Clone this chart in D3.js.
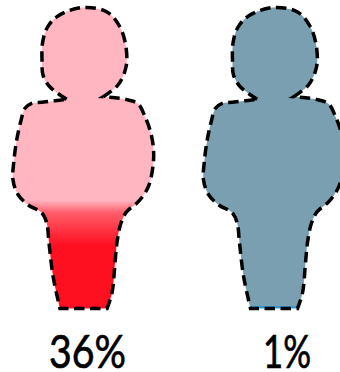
<!DOCTYPE html>
<html>
<head>
<meta charset="utf-8">
<script src="https://cdn.jsdelivr.net/npm/d3@7"></script>
<style>
  html, body { margin: 0; padding: 0; background: #fff; }
  svg { display: block; }
  text { font-family: Lato, "Open Sans", sans-serif; fill: #000; stroke: #000; stroke-width: 0.7px; }
</style>
</head>
<body>
<svg id="chart" width="340" height="372"></svg>
<script>
const labels = ['36%', '1%'];
const percents = [36, 1];
const fullColors = ['#ff1020', '#2a9bd8'];
const emptyColors = ['#ffb6c1', '#7a9fb1'];

// person outline in figure units, split where the drawing has sharp corners
const head = [[53.7, 91.8], [37, 79.5], [30, 67.5], [29, 52.5], [29.5, 35.5], [34, 20.5], [45, 8.5], [70, 0], [94, 4.5], [107, 19.5], [113, 39.5], [113, 59.5], [105, 77.5], [90.3, 89.2]];
const rightSide = [[90.3, 89.2], [102, 90.2], [115.3, 92.5], [125.3, 96.5], [132, 109.2], [137, 122.5], [140.3, 139.2], [140.3, 155.8], [135.3, 179.2], [125.3, 194.2], [113.7, 204.2], [108, 215.5], [104, 235], [102, 255.5], [99, 285.5], [94, 301]];
const base = [[94, 301], [47, 301]];
const leftSide = [[47, 301], [40, 268.5], [36, 235.5], [33.7, 215.5], [28.7, 205.2], [15.3, 197.5], [5.3, 187.5], [0, 172.5], [1, 152.5], [3.7, 132.5], [7.7, 114.2], [12, 100.8], [18.7, 95.8], [28.7, 94.8], [42, 93.2], [53.7, 91.8]];
const segments = [head, rightSide, base, leftSide];

const svg = d3.select('#chart');

const x = d3.scaleLinear().domain([0, 141]).range([0, 141]);
const y = d3.scaleLinear().domain([0, 301]).range([7.5, 308.5]);
const level = d3.scaleLinear().domain([0, 100]).range([308.5, 7.5]);
const figure = d3.scaleOrdinal().domain(labels).range([13, 203.5]);

const line = d3.line()
  .x(d => x(d[0]))
  .y(d => y(d[1]))
  .curve(d3.curveCatmullRom.alpha(0.5));

const outlinePath = segments
  .map((s, i) => i === 0 ? line(s) : line(s).replace(/^M/, 'L'))
  .join('') + 'Z';

const defs = svg.append('defs');

labels.forEach((label, i) => {
  const top = level(percents[i]);
  const mix = d3.interpolateRgb(emptyColors[i], fullColors[i]);
  const grad = defs.append('linearGradient')
    .attr('id', 'fill' + i)
    .attr('gradientUnits', 'userSpaceOnUse')
    .attr('x1', 0).attr('x2', 0)
    .attr('y1', top).attr('y2', y(301));
  grad.append('stop').attr('offset', 0).attr('stop-color', emptyColors[i]);
  grad.append('stop').attr('offset', 0.12).attr('stop-color', mix(0.55));
  grad.append('stop').attr('offset', 0.42).attr('stop-color', fullColors[i]);
  grad.append('stop').attr('offset', 1).attr('stop-color', fullColors[i]);

  const g = svg.append('g').attr('transform', `translate(${figure(label)},0)`);

  g.append('path')
    .attr('d', outlinePath)
    .attr('fill', `url(#fill${i})`);

  g.append('path')
    .attr('d', outlinePath)
    .attr('fill', 'none')
    .attr('stroke', '#000')
    .attr('stroke-width', 3.5)
    .attr('stroke-dasharray', '10.5,5.5');
});

// text widths are squeezed to match the narrow face of the original
const textX = [87.5, 287];
const textW = [77, 48];
svg.selectAll('text.pct')
  .data(labels)
  .enter()
  .append('text')
  .attr('class', 'pct')
  .attr('x', (d, i) => textX[i])
  .attr('y', 367.5)
  .attr('text-anchor', 'middle')
  .attr('font-size', 47)
  .attr('textLength', (d, i) => textW[i])
  .attr('lengthAdjust', 'spacingAndGlyphs')
  .text(d => d);
</script>
</body>
</html>
